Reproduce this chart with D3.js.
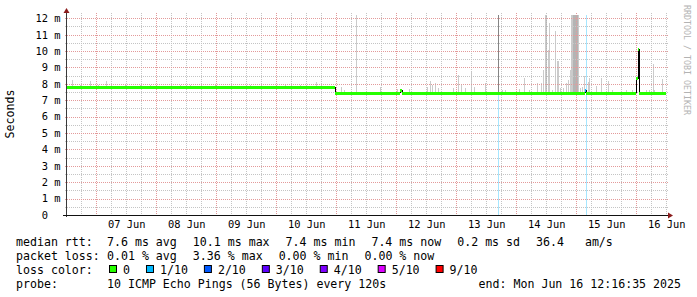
<!DOCTYPE html>
<html>
<head>
<meta charset="utf-8">
<script src="https://cdn.jsdelivr.net/npm/d3@7"></script>
<style>
  body { margin: 0; background: #fff; }
  svg { display: block; font-family: 'DejaVu Sans Mono', monospace; }
</style>
</head>
<body>
<svg id="chart"></svg>
<script>
// ---- values ----
const timeRange = ['2025-06-06T12:16:35Z', '2025-06-16T12:16:35Z'];
const yMax = 12.2;                       // ms at top of plot
const yTicks = [0, 1, 2, 3, 4, 5, 6, 7, 8, 9, 10, 11, 12];
const dayLabels = ['07 Jun', '08 Jun', '09 Jun', '10 Jun', '11 Jun', '12 Jun', '13 Jun', '14 Jun', '15 Jun', '16 Jun'];

// median rtt as steps: [day of June, ms, loss out of 10]
const medianSteps = [
  [6.512, 7.78, 0], [8.228, 7.76, 0], [9.228, 7.79, 0], [10.978, 7.42, 0],
  [12.062, 7.62, 0], [12.087, 7.42, 0], [15.145, 7.62, 1], [15.162, 7.42, 0],
  [16.003, 8.30, 0], [16.020, 10.1, 0], [16.045, 7.42, 0]
];
const medianEnd = 16.5;

// loss background: [day of June, loss out of 10]
const lossMarks = [[13.695, 1], [15.162, 1]];

// smoke: [day of June, highest ping ms, density]
const smoke = [
  [6.603, 8.24, 1], [6.728, 7.93, 1], [6.903, 8.18, 1], [7.028, 7.93, 1], [7.162, 8.18, 1],
  [7.478, 7.93, 1], [7.728, 7.96, 1], [7.895, 7.90, 1], [8.395, 7.96, 1], [8.562, 7.93, 1],
  [8.978, 7.93, 1], [9.562, 7.92, 1], [10.145, 7.93, 1], [10.395, 7.95, 1], [10.657, 8.11, 1],
  [11.078, 7.83, 1], [11.128, 7.60, 1], [11.328, 12.2, 1], [11.720, 7.81, 1], [12.012, 7.66, 1],
  [12.212, 7.69, 1], [12.512, 7.79, 1], [12.562, 8.19, 1], [12.595, 7.93, 1], [12.645, 8.04, 1],
  [12.695, 7.75, 1], [12.945, 7.75, 1], [13.033, 8.54, 1], [13.078, 7.93, 1], [13.145, 7.75, 1],
  [13.245, 8.76, 1], [13.300, 7.83, 1], [13.478, 8.07, 1], [13.695, 12.2, 4], [13.762, 7.64, 1],
  [13.812, 7.60, 1], [14.045, 7.71, 1], [14.128, 8.36, 1], [14.212, 7.64, 1], [14.345, 8.05, 1],
  [14.407, 8.05, 1], [14.450, 8.87, 1], [14.470, 12.2, 1], [14.490, 12.2, 2], [14.523, 10.07, 1],
  [14.550, 11.71, 1], [14.595, 7.64, 1], [14.645, 11.24, 1], [14.678, 9.38, 1], [14.700, 9.38, 1],
  [14.728, 7.75, 1], [14.783, 7.75, 1], [14.828, 8.05, 1], [14.867, 8.26, 1], [14.895, 8.87, 1],
  [14.912, 12.2, 1], [14.928, 12.2, 1], [14.945, 12.2, 2], [14.962, 12.2, 2], [14.978, 12.2, 2],
  [14.995, 12.2, 2], [15.012, 12.2, 2], [15.028, 12.2, 1], [15.062, 7.75, 1], [15.095, 7.79, 1],
  [15.128, 8.46, 1], [15.200, 8.11, 1], [15.217, 8.36, 1], [15.328, 7.85, 1], [15.412, 8.36, 1],
  [15.533, 8.16, 1], [15.595, 7.64, 1], [15.828, 7.60, 1], [15.928, 7.60, 1], [16.162, 7.64, 1],
  [16.217, 7.64, 1], [16.283, 9.21, 1], [16.300, 7.60, 1], [16.423, 8.32, 1]
];

// legend
const rttStats = ['7.6 ms avg', '10.1 ms max', '7.4 ms min', '7.4 ms now', '0.2 ms sd', '36.4\u00a0\u00a0\u00a0am/s'];
const lossStats = ['0.01 % avg', '3.36 % max', '0.00 % min', '0.00 % now'];
const lossLabels = ['0', '1/10', '2/10', '3/10', '4/10', '5/10', '9/10'];
const lossColors = ['#26ff00', '#00b8ff', '#0059ff', '#5e00ff', '#7e00ff', '#dd00ff', '#ff0000'];
const lossLevels = [0, 1, 2, 3, 4, 5, 9];
const probeText = '10 ICMP Echo Pings (56 Bytes) every 120s';
const endText = 'end: Mon Jun 16 12:16:35 2025';

const juneDay = d => new Date(Date.UTC(2025, 5, 1) + (d - 1) * 864e5);

class SmokeGraph {
  constructor(_config) {
    this.config = {
      parentElement: _config.parentElement,
      containerWidth: _config.containerWidth || 697,
      containerHeight: _config.containerHeight || 297,
      margin: _config.margin || {top: 15, right: 30, bottom: 82, left: 67}
    };
    this.initVis();
  }

  initVis() {
    let vis = this;
    const m = vis.config.margin;
    vis.width = vis.config.containerWidth - m.left - m.right;
    vis.height = vis.config.containerHeight - m.top - m.bottom;

    vis.xScale = d3.scaleUtc()
        .domain(timeRange.map(d => new Date(d)))
        .range([0, vis.width]);
    vis.yScale = d3.scaleLinear()
        .domain([0, yMax])
        .range([vis.height, 0]);

    vis.svg = d3.select(vis.config.parentElement)
        .attr('width', vis.config.containerWidth)
        .attr('height', vis.config.containerHeight);

    vis.svg.append('rect')
        .attr('width', vis.config.containerWidth)
        .attr('height', vis.config.containerHeight)
        .attr('fill', '#fff');

    vis.chart = vis.svg.append('g')
        .attr('transform', `translate(${m.left},${m.top})`);

    vis.px = t => Math.round(vis.xScale(t));
    vis.lossColor = l => lossColors[lossLevels.indexOf(l)];
  }

  medianAt(day) {
    const i = d3.bisector(d => d[0]).right(medianSteps, day) - 1;
    return medianSteps[Math.max(0, i)][1];
  }

  updateVis() {
    let vis = this;
    const x = vis.xScale, y = vis.yScale;

    // loss background
    vis.chart.append('g').selectAll('rect')
      .data(lossMarks)
      .join('rect')
        .attr('x', d => vis.px(juneDay(d[0])))
        .attr('y', 0)
        .attr('width', 1)
        .attr('height', vis.height)
        .attr('fill', d => vis.lossColor(d[1]))
        .attr('fill-opacity', 0.35);

    // smoke
    const shade = d3.scaleLinear().domain([1, 4]).range(['#cbcbcb', '#858585']);
    vis.chart.append('g').attr('shape-rendering', 'crispEdges').selectAll('rect')
      .data(smoke)
      .join('rect')
        .attr('x', d => vis.px(juneDay(d[0])))
        .attr('y', d => y(d[1]))
        .attr('width', 1)
        .attr('height', d => Math.max(0, y(vis.medianAt(d[0])) - y(d[1])))
        .attr('fill', d => shade(d[2]));

    // grid
    const grid = vis.chart.append('g').attr('shape-rendering', 'crispEdges')
        .attr('stroke-dasharray', '1,1');
    const t0 = x.domain()[0], t1 = x.domain()[1];
    const days = d3.utcDay.range(t0, t1);
    const hours = d3.utcHour.every(6).range(t0, t1).filter(t => t.getUTCHours() !== 0);
    const halfMs = d3.range(0.5, yMax, 1);

    grid.selectAll('.hminor').data(halfMs).join('line')
        .attr('x1', -2).attr('x2', vis.width + 2)
        .attr('y1', d => Math.round(y(d)) + 0.5).attr('y2', d => Math.round(y(d)) + 0.5)
        .attr('stroke', '#c4c4c4');
    grid.selectAll('.vminor').data(hours).join('line')
        .attr('x1', d => vis.px(d) + 0.5).attr('x2', d => vis.px(d) + 0.5)
        .attr('y1', -2).attr('y2', vis.height + 2)
        .attr('stroke', '#c4c4c4');
    grid.selectAll('.hmajor').data(yTicks.filter(d => d > 0)).join('line')
        .attr('x1', -2).attr('x2', vis.width + 2)
        .attr('y1', d => Math.round(y(d)) + 0.5).attr('y2', d => Math.round(y(d)) + 0.5)
        .attr('stroke', '#e39a9a');
    grid.selectAll('.vmajor').data(days).join('line')
        .attr('x1', d => vis.px(d) + 0.5).attr('x2', d => vis.px(d) + 0.5)
        .attr('y1', -2).attr('y2', vis.height + 2)
        .attr('stroke', '#e39a9a');

    // median rtt, steps joined by black risers
    const steps = medianSteps.map((d, i) => ({
      a: juneDay(d[0]),
      b: juneDay(i < medianSteps.length - 1 ? medianSteps[i + 1][0] : medianEnd),
      v: d[1], loss: d[2],
      prev: i > 0 ? medianSteps[i - 1][1] : d[1]
    }));
    const med = vis.chart.append('g').attr('shape-rendering', 'crispEdges');
    med.selectAll('.riser').data(steps.slice(1)).join('line')
        .attr('x1', d => vis.px(d.a) + 0.5).attr('x2', d => vis.px(d.a) + 0.5)
        .attr('y1', d => y(d.prev)).attr('y2', d => y(d.v))
        .attr('stroke', '#000');
    med.selectAll('.level').data(steps).join('line')
        .attr('x1', d => vis.px(d.a)).attr('x2', d => vis.px(d.b))
        .attr('y1', d => y(d.v)).attr('y2', d => y(d.v))
        .attr('stroke', d => vis.lossColor(d.loss))
        .attr('stroke-width', 3);

    // axis lines + arrows
    const ax = vis.chart.append('g').attr('shape-rendering', 'crispEdges');
    ax.append('line')
        .attr('x1', -0.5).attr('x2', -0.5).attr('y1', -2).attr('y2', vis.height + 2)
        .attr('stroke', '#3a3a3a');
    ax.append('line')
        .attr('x1', -4).attr('x2', vis.width + 1).attr('y1', vis.height + 0.5).attr('y2', vis.height + 0.5)
        .attr('stroke', '#111');
    vis.chart.append('path')
        .attr('d', `M-3.5,-2 L2.5,-2 L-0.5,-7 Z`)
        .attr('fill', '#8b1c1c');
    vis.chart.append('path')
        .attr('d', `M${vis.width + 1},${vis.height - 2.5} L${vis.width + 1},${vis.height + 3.5} L${vis.width + 6},${vis.height + 0.5} Z`)
        .attr('fill', '#8b1c1c');

    // y labels
    const yAxisG = vis.chart.append('g')
        .call(d3.axisLeft(y).tickValues(yTicks).tickSize(0).tickPadding(6.5)
          .tickFormat(d => d === 0 ? '0' : `${d} m`));
    yAxisG.select('.domain').remove();
    yAxisG.selectAll('text')
        .attr('font-family', "'DejaVu Sans Mono', monospace")
        .attr('font-size', 10.4)
        .attr('fill', '#000')
        .attr('dx', d => d === 0 ? -12.5 : 0);

    // x labels at noon
    const noons = days.map(d => d3.utcHour.offset(d, 12));
    const xAxisG = vis.chart.append('g')
        .attr('transform', `translate(0,${vis.height})`)
        .call(d3.axisBottom(x).tickValues(noons).tickSize(0).tickPadding(6)
          .tickFormat((d, i) => dayLabels[i]));
    xAxisG.select('.domain').remove();
    xAxisG.selectAll('text')
        .attr('font-family', "'DejaVu Sans Mono', monospace")
        .attr('font-size', 10.4)
        .attr('fill', '#000');

    // titles
    vis.svg.append('text')
        .attr('transform', 'translate(14,114) rotate(-90)')
        .attr('text-anchor', 'middle')
        .attr('font-size', 11.6)
        .text('Seconds');
    vis.svg.append('text')
        .attr('transform', 'translate(684,5) rotate(90)')
        .attr('font-size', 8.3)
        .attr('fill', '#b3b3b3')
        .text('RRDTOOL / TOBI OETIKER');

    vis.renderLegend();
  }

  renderLegend() {
    let vis = this;
    const lg = vis.svg.append('g').attr('font-size', 11.6).attr('fill', '#000');
    const col = 107, gap = 16;

    const row = (label, items, yb) => {
      lg.append('text').attr('x', 16).attr('y', yb).text(label);
      let cx = col;
      items.forEach(s => {
        const t = lg.append('text').attr('x', cx).attr('y', yb).text(s);
        cx += t.node().getComputedTextLength() + gap;
      });
    };
    row('median rtt:', rttStats, 245.5);
    row('packet loss:', lossStats, 259.5);

    // loss colours
    lg.append('text').attr('x', 16).attr('y', 273.5).text('loss color:');
    let cx = col + 2;
    lossLabels.forEach((s, i) => {
      lg.append('rect')
          .attr('x', cx + 0.5).attr('y', 265.5).attr('width', 7).attr('height', 7)
          .attr('fill', lossColors[i]).attr('stroke', '#000');
      const t = lg.append('text').attr('x', cx + 14).attr('y', 273.5).text(s);
      cx += 14 + t.node().getComputedTextLength() + gap;
    });

    lg.append('text').attr('x', 16).attr('y', 287.5).text('probe:');
    lg.append('text').attr('x', col).attr('y', 287.5).text(probeText);
    lg.append('text').attr('x', 681).attr('y', 287.5).attr('text-anchor', 'end').text(endText);
  }
}

const graph = new SmokeGraph({parentElement: '#chart'});
graph.updateVis();
</script>
</body>
</html>
